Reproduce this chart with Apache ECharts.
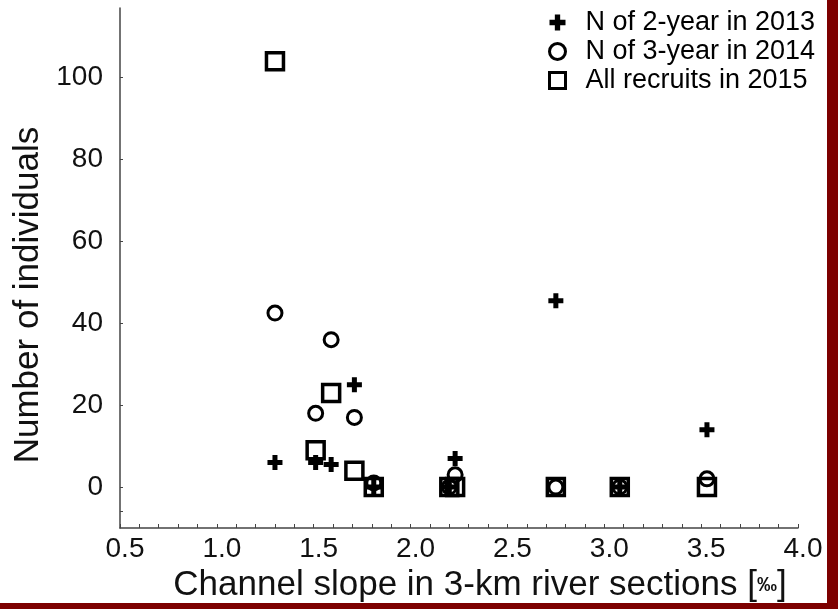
<!DOCTYPE html>
<html>
<head>
<meta charset="utf-8">
<script src="https://cdn.jsdelivr.net/npm/echarts@6/dist/echarts.min.js"></script>
<style>
  html, body { margin: 0; padding: 0; background: #7d0000; }
  #chart { width: 827px; height: 603px; background: #fff; }
</style>
</head>
<body>
<div id="chart"></div>
<script>
  // channel slope of the sampled river sections (‰)
  var slope = [1.30, 1.51, 1.59, 1.71, 1.81, 2.20, 2.23, 2.75, 3.08, 3.53];
  // number of individuals per section
  var n2013 = [6, 6, 5.5, 25, 0, 0, 7, 45.5, 0, 14];
  var n2014 = [42.5, 18, 36, 17, 1, 0, 3, 0, 0, 2];
  var n2015 = [104, 9, 23, 4, 0, 0, 0, 0, 0, 0];

  var seriesNames = ['N of 2-year in 2013', 'N of 3-year in 2014', 'All recruits in 2015'];
  var yTicks = [0, 20, 40, 60, 80, 100];
  var yMinorTicks = [-6, 0, 20, 40, 60, 80, 100];

  var fontFamily = '"Liberation Sans", Arial, sans-serif';
  var crossPath = 'path://M-1,-3H1V-1H3V1H1V3H-1V1H-3V-1H-1Z';

  function pairs(values) {
    return values.map(function (v, i) { return [slope[i], v]; });
  }

  var chart = echarts.init(document.getElementById('chart'));
  chart.setOption({
    animation: false,
    grid: {
      left: 120,
      right: 827 - 798,
      top: 8,
      bottom: 603 - 528,
      outerBoundsMode: 'none'
    },
    legend: {
      orient: 'vertical',
      left: 543,
      top: 4,
      itemWidth: 16,
      itemHeight: 16,
      itemGap: 2,
      itemStyle: { borderWidth: 3 },
      textStyle: {
        fontFamily: fontFamily,
        fontSize: 27,
        lineHeight: 27,
        color: '#000',
        padding: [0, 0, 0, 15]
      },
      data: seriesNames
    },
    xAxis: {
      type: 'value',
      min: 0.5,
      max: 4.0,
      interval: 0.5,
      name: 'Channel slope in 3-km river sections [{p|‰}]',
      nameLocation: 'middle',
      nameGap: 31,
      nameTextStyle: {
        fontFamily: fontFamily,
        fontSize: 35,
        color: '#111',
        padding: [0, 0, 0, 42],
        rich: {
          p: { fontFamily: fontFamily, fontSize: 20, fontWeight: 'bold', color: '#111' }
        }
      },
      axisLine: { onZero: false, lineStyle: { color: '#444', width: 1.5 } },
      axisTick: { inside: true, length: 4, lineStyle: { color: '#444' } },
      minorTick: { show: true, splitNumber: 5, length: 4, lineStyle: { color: '#444' } },
      splitLine: { show: false },
      axisLabel: {
        fontFamily: fontFamily,
        fontSize: 28,
        color: '#111',
        margin: 7,
        padding: [0, 0, 0, 10],
        formatter: function (v) { return v.toFixed(1); }
      }
    },
    yAxis: {
      type: 'value',
      min: -10,
      max: 117,
      name: 'Number of individuals',
      nameLocation: 'middle',
      nameGap: 60,
      nameTextStyle: {
        fontFamily: fontFamily,
        fontSize: 35,
        color: '#111',
        padding: [0, 54, 0, 0]
      },
      axisLine: { show: true, onZero: false, lineStyle: { color: '#444', width: 1.5 } },
      axisTick: { show: true, inside: true, length: 3, customValues: yMinorTicks, lineStyle: { color: '#444' } },
      splitLine: { show: false },
      axisLabel: {
        fontFamily: fontFamily,
        fontSize: 28,
        color: '#111',
        margin: 17,
        customValues: yTicks
      }
    },
    series: [
      {
        name: seriesNames[0],
        type: 'scatter',
        symbol: crossPath,
        symbolSize: 15,
        itemStyle: { color: '#000', opacity: 1 },
        data: pairs(n2013),
        z: 3
      },
      {
        name: seriesNames[1],
        type: 'scatter',
        symbol: 'circle',
        symbolSize: 14,
        itemStyle: { color: 'rgba(0,0,0,0)', borderColor: '#000', borderWidth: 3, opacity: 1 },
        data: pairs(n2014),
        z: 2
      },
      {
        name: seriesNames[2],
        type: 'scatter',
        symbol: 'rect',
        symbolSize: 17,
        itemStyle: { color: 'rgba(0,0,0,0)', borderColor: '#000', borderWidth: 3.5, opacity: 1 },
        data: pairs(n2015),
        z: 1
      }
    ]
  });
</script>
</body>
</html>
